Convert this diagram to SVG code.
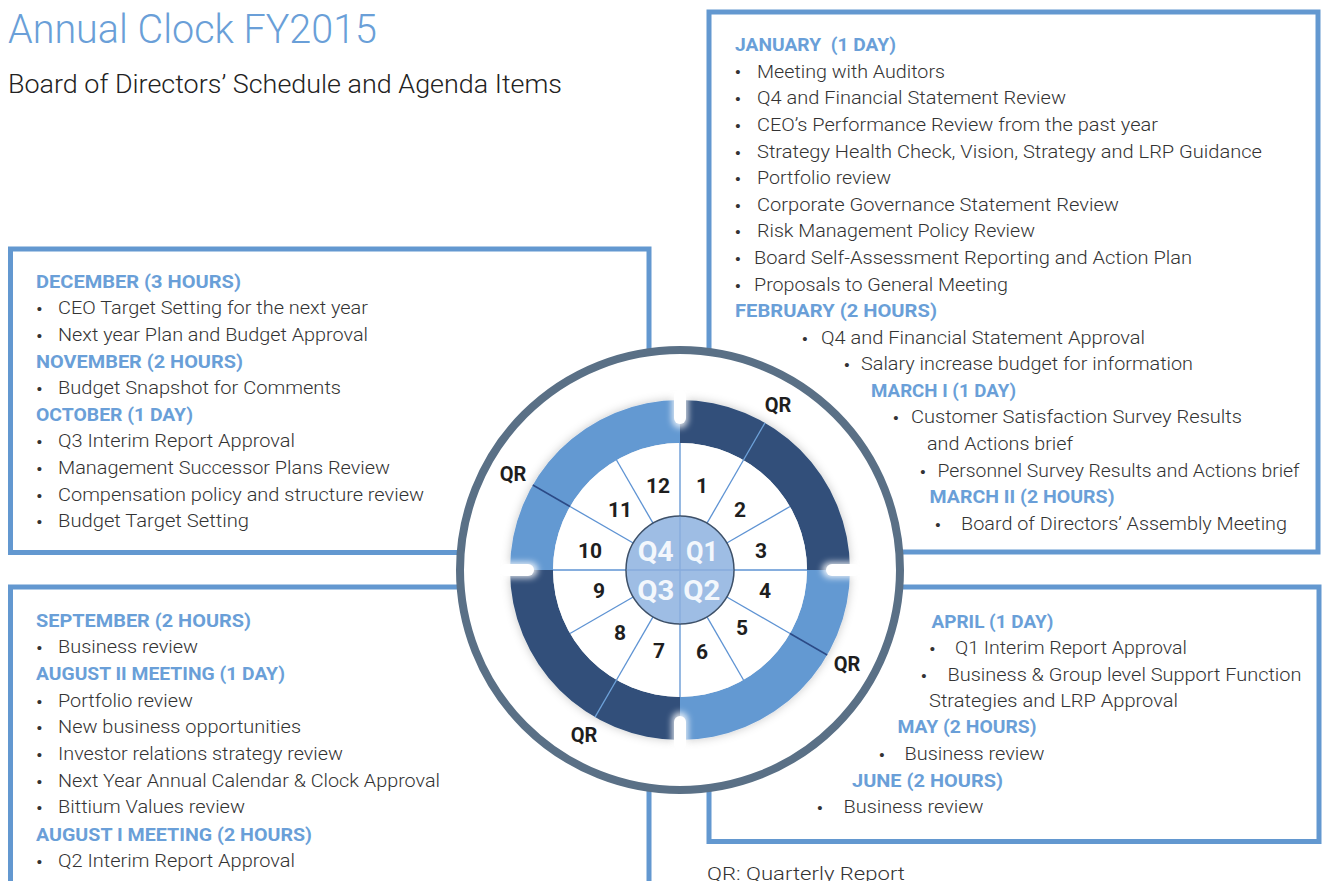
<svg xmlns="http://www.w3.org/2000/svg" width="1323" height="881" viewBox="0 0 1323 881">
<defs>
<style>
.box{fill:none;stroke:#6398d0;stroke-width:5}
.h{font-family:Roboto,"Liberation Sans",sans-serif;font-weight:700;font-size:18px;fill:#6a9fd8}
.t{font-family:Roboto,"Liberation Sans",sans-serif;font-weight:300;font-size:18.5px;fill:#333}
.b{font-family:"Liberation Sans",sans-serif;font-size:15px;fill:#333;text-anchor:middle}
.num{font-family:Roboto,"Liberation Sans",sans-serif;font-weight:700;font-size:21px;fill:#1e1e1e;text-anchor:middle}
.q{font-family:Roboto,"Liberation Sans",sans-serif;font-weight:700;font-size:27px;fill:#f3f7fc;text-anchor:middle}
.qr{font-family:Roboto,"Liberation Sans",sans-serif;font-weight:700;font-size:20px;fill:#1e1e1e;text-anchor:middle}
.spoke{stroke:#5e93d3;stroke-width:1.3}
.dark{fill:#31507a}
.light{fill:#6499d2}
.notch{fill:#fff}
</style>
<filter id="sh" x="-20%" y="-20%" width="140%" height="140%">
<feDropShadow dx="0" dy="0" stdDeviation="5" flood-color="#000" flood-opacity="0.22"/>
</filter>
<filter id="glow" x="-50%" y="-50%" width="200%" height="200%">
<feGaussianBlur stdDeviation="3"/>
</filter>
</defs>
<rect width="1323" height="881" fill="#fff"/>

<g id="title">
<text x="8" y="43" font-family="Roboto,'Liberation Sans',sans-serif" font-weight="300" font-size="41" fill="#6a9fd8" textLength="369" lengthAdjust="spacingAndGlyphs">Annual Clock FY2015</text>
<text x="8" y="93" font-family="Roboto,'Liberation Sans',sans-serif" font-weight="300" font-size="25" fill="#222" textLength="554" lengthAdjust="spacingAndGlyphs">Board of Directors’ Schedule and Agenda Items</text>
</g>

<g id="box-q1">
<rect class="box" x="709" y="12" width="609" height="540"/>
<text class="h" x="735" y="50.5" textLength="161" lengthAdjust="spacingAndGlyphs" xml:space="preserve">JANUARY  (1 DAY)</text>
<text class="b" x="738" y="77">•</text><text class="t" x="757" y="77.5" textLength="188" lengthAdjust="spacingAndGlyphs">Meeting with Auditors</text>
<text class="b" x="738" y="104">•</text><text class="t" x="757" y="104.3" textLength="309" lengthAdjust="spacingAndGlyphs">Q4 and Financial Statement Review</text>
<text class="b" x="738" y="131">•</text><text class="t" x="757" y="131" textLength="401" lengthAdjust="spacingAndGlyphs">CEO’s Performance Review from the past year</text>
<text class="b" x="738" y="157.5">•</text><text class="t" x="757" y="157.5" textLength="505" lengthAdjust="spacingAndGlyphs">Strategy Health Check, Vision, Strategy and LRP Guidance</text>
<text class="b" x="738" y="184">•</text><text class="t" x="757" y="184" textLength="134" lengthAdjust="spacingAndGlyphs">Portfolio review</text>
<text class="b" x="738" y="210.7">•</text><text class="t" x="757" y="210.7" textLength="362" lengthAdjust="spacingAndGlyphs">Corporate Governance Statement Review</text>
<text class="b" x="738" y="237.3">•</text><text class="t" x="757" y="237.3" textLength="278" lengthAdjust="spacingAndGlyphs">Risk Management Policy Review</text>
<text class="b" x="738" y="264">•</text><text class="t" x="754" y="264" textLength="438" lengthAdjust="spacingAndGlyphs">Board Self-Assessment Reporting and Action Plan</text>
<text class="b" x="738" y="290.5">•</text><text class="t" x="754" y="290.5" textLength="254" lengthAdjust="spacingAndGlyphs">Proposals to General Meeting</text>
<text class="h" x="735" y="317.3" textLength="202" lengthAdjust="spacingAndGlyphs">FEBRUARY (2 HOURS)</text>
<text class="b" x="805" y="343.5">•</text><text class="t" x="821" y="343.5" textLength="324" lengthAdjust="spacingAndGlyphs">Q4 and Financial Statement Approval</text>
<text class="b" x="847" y="370">•</text><text class="t" x="861" y="370" textLength="332" lengthAdjust="spacingAndGlyphs">Salary increase budget for information</text>
<text class="h" x="871" y="397" textLength="145" lengthAdjust="spacingAndGlyphs">MARCH I (1 DAY)</text>
<text class="b" x="896" y="423">•</text><text class="t" x="911" y="423" textLength="331" lengthAdjust="spacingAndGlyphs">Customer Satisfaction Survey Results</text>
<text class="t" x="927" y="450" textLength="146" lengthAdjust="spacingAndGlyphs">and Actions brief</text>
<text class="b" x="923" y="477">•</text><text class="t" x="937.5" y="477" textLength="362" lengthAdjust="spacingAndGlyphs">Personnel Survey Results and Actions brief</text>
<text class="h" x="929.5" y="503" textLength="185" lengthAdjust="spacingAndGlyphs">MARCH II (2 HOURS)</text>
<text class="b" x="938" y="530">•</text><text class="t" x="961" y="530" textLength="326" lengthAdjust="spacingAndGlyphs">Board of Directors’ Assembly Meeting</text>
</g>

<g id="box-q2">
<rect class="box" x="709" y="587" width="610" height="254.5"/>
<text class="h" x="931.5" y="627.7" textLength="122" lengthAdjust="spacingAndGlyphs">APRIL (1 DAY)</text>
<text class="b" x="932.5" y="654">•</text><text class="t" x="955" y="654" textLength="232" lengthAdjust="spacingAndGlyphs">Q1 Interim Report Approval</text>
<text class="b" x="924" y="680.7">•</text><text class="t" x="947.5" y="680.7" textLength="354" lengthAdjust="spacingAndGlyphs">Business &amp; Group level Support Function</text>
<text class="t" x="929" y="707.3" textLength="249" lengthAdjust="spacingAndGlyphs">Strategies and LRP Approval</text>
<text class="h" x="897.5" y="733.3" textLength="139" lengthAdjust="spacingAndGlyphs">MAY (2 HOURS)</text>
<text class="b" x="882" y="760">•</text><text class="t" x="904.5" y="760" textLength="140" lengthAdjust="spacingAndGlyphs">Business review</text>
<text class="h" x="852" y="787" textLength="151" lengthAdjust="spacingAndGlyphs">JUNE (2 HOURS)</text>
<text class="b" x="820" y="813">•</text><text class="t" x="843.5" y="813" textLength="140" lengthAdjust="spacingAndGlyphs">Business review</text>
</g>

<g id="box-q4">
<rect class="box" x="10.5" y="249" width="638.5" height="303.5"/>
<text class="h" x="36" y="288" textLength="205" lengthAdjust="spacingAndGlyphs">DECEMBER (3 HOURS)</text>
<text class="b" x="39.5" y="314">•</text><text class="t" x="58" y="314" textLength="310" lengthAdjust="spacingAndGlyphs">CEO Target Setting for the next year</text>
<text class="b" x="39.5" y="341">•</text><text class="t" x="58" y="341" textLength="310" lengthAdjust="spacingAndGlyphs">Next year Plan and Budget Approval</text>
<text class="h" x="36" y="368" textLength="207" lengthAdjust="spacingAndGlyphs">NOVEMBER (2 HOURS)</text>
<text class="b" x="39.5" y="394">•</text><text class="t" x="58" y="394" textLength="283" lengthAdjust="spacingAndGlyphs">Budget Snapshot for Comments</text>
<text class="h" x="36" y="421" textLength="157" lengthAdjust="spacingAndGlyphs">OCTOBER (1 DAY)</text>
<text class="b" x="39.5" y="447">•</text><text class="t" x="58" y="447" textLength="237" lengthAdjust="spacingAndGlyphs">Q3 Interim Report Approval</text>
<text class="b" x="39.5" y="474">•</text><text class="t" x="58" y="474" textLength="332" lengthAdjust="spacingAndGlyphs">Management Successor Plans Review</text>
<text class="b" x="39.5" y="501">•</text><text class="t" x="58" y="501" textLength="366" lengthAdjust="spacingAndGlyphs">Compensation policy and structure review</text>
<text class="b" x="39.5" y="527">•</text><text class="t" x="58" y="527" textLength="191" lengthAdjust="spacingAndGlyphs">Budget Target Setting</text>
</g>

<g id="box-q3">
<rect class="box" x="10.5" y="587" width="638.5" height="320"/>
<text class="h" x="36" y="627.3" textLength="215" lengthAdjust="spacingAndGlyphs">SEPTEMBER (2 HOURS)</text>
<text class="b" x="39.5" y="653.3">•</text><text class="t" x="58" y="653.3" textLength="140" lengthAdjust="spacingAndGlyphs">Business review</text>
<text class="h" x="36" y="680" textLength="249" lengthAdjust="spacingAndGlyphs">AUGUST II MEETING (1 DAY)</text>
<text class="b" x="39.5" y="706.7">•</text><text class="t" x="58" y="706.7" textLength="135" lengthAdjust="spacingAndGlyphs">Portfolio review</text>
<text class="b" x="39.5" y="733">•</text><text class="t" x="58" y="733" textLength="243" lengthAdjust="spacingAndGlyphs">New business opportunities</text>
<text class="b" x="39.5" y="760">•</text><text class="t" x="58" y="760" textLength="285" lengthAdjust="spacingAndGlyphs">Investor relations strategy review</text>
<text class="b" x="39.5" y="787">•</text><text class="t" x="58" y="787" textLength="382" lengthAdjust="spacingAndGlyphs">Next Year Annual Calendar &amp; Clock Approval</text>
<text class="b" x="39.5" y="813">•</text><text class="t" x="58" y="813" textLength="187" lengthAdjust="spacingAndGlyphs">Bittium Values review</text>
<text class="h" x="36" y="840.7" textLength="276" lengthAdjust="spacingAndGlyphs">AUGUST I MEETING (2 HOURS)</text>
<text class="b" x="39.5" y="866.7">•</text><text class="t" x="58" y="866.7" textLength="237" lengthAdjust="spacingAndGlyphs">Q2 Interim Report Approval</text>
</g>

<g id="legend">
<text class="t" x="707" y="880" textLength="198" lengthAdjust="spacingAndGlyphs">QR: Quarterly Report</text>
</g>

<g id="clock">
<circle cx="680" cy="570" r="220" fill="#fff" stroke="#5a7086" stroke-width="8"/>
<g id="ring" filter="url(#sh)">
<path class="dark" d="M680 400 A170 170 0 0 1 850 570 L807 570 A127 127 0 0 0 680 443 Z"/>
<path class="light" d="M850 570 A170 170 0 0 1 680 740 L680 697 A127 127 0 0 0 807 570 Z"/>
<path class="dark" d="M680 740 A170 170 0 0 1 510 570 L553 570 A127 127 0 0 0 680 697 Z"/>
<path class="light" d="M510 570 A170 170 0 0 1 680 400 L680 443 A127 127 0 0 0 553 570 Z"/>
<circle cx="680" cy="570" r="127" fill="#fff"/>
</g>
<g id="notches">
<g filter="url(#glow)" fill="#fff" opacity="0.8">
<rect x="672" y="386" width="16" height="42" rx="8"/>
<rect x="672" y="712" width="16" height="42" rx="8"/>
<rect x="496" y="562" width="42" height="16" rx="8"/>
<rect x="822" y="562" width="42" height="16" rx="8"/>
</g>
<rect class="notch" x="674" y="390" width="12" height="34" rx="6"/>
<rect class="notch" x="674" y="716" width="12" height="34" rx="6"/>
<rect class="notch" x="500" y="564" width="34" height="12" rx="6"/>
<rect class="notch" x="826" y="564" width="34" height="12" rx="6"/>
</g>
<g id="connectors">
<line class="spoke" x1="680" y1="443" x2="680" y2="697"/>
<line class="spoke" x1="553" y1="570" x2="807" y2="570"/>
<line class="spoke" x1="707" y1="523.2" x2="743.5" y2="460"/>
<line class="spoke" x1="726.8" y1="543" x2="790" y2="506.5"/>
<line class="spoke" x1="726.8" y1="597" x2="790" y2="633.5"/>
<line class="spoke" x1="707" y1="616.8" x2="743.5" y2="680"/>
<line class="spoke" x1="653" y1="616.8" x2="616.5" y2="680"/>
<line class="spoke" x1="633.2" y1="597" x2="570" y2="633.5"/>
<line class="spoke" x1="633.2" y1="543" x2="570" y2="506.5"/>
<line class="spoke" x1="653" y1="523.2" x2="616.5" y2="460"/>
<line x1="743.5" y1="460" x2="765" y2="422.8" stroke="#6ea2da" stroke-width="1.3"/>
<line x1="790" y1="633.5" x2="827.2" y2="655" stroke="#2b4a86" stroke-width="1.5"/>
<line x1="616.5" y1="680" x2="595" y2="717.2" stroke="#6ea2da" stroke-width="1.3"/>
<line x1="570" y1="506.5" x2="532.8" y2="485" stroke="#2b4a86" stroke-width="1.5"/>
</g>
<g id="center">
<circle cx="680" cy="570" r="54" fill="#9ebde4" stroke="#3d5068" stroke-width="1.5"/>
<line x1="680" y1="516.8" x2="680" y2="623.2" stroke="#86abdc" stroke-width="1.3"/>
<line x1="626.8" y1="570" x2="733.2" y2="570" stroke="#86abdc" stroke-width="1.3"/>
<text class="q" x="655.7" y="561" textLength="36" lengthAdjust="spacingAndGlyphs">Q4</text>
<text class="q" x="702" y="561" textLength="32" lengthAdjust="spacingAndGlyphs">Q1</text>
<text class="q" x="655.7" y="599.5" textLength="37" lengthAdjust="spacingAndGlyphs">Q3</text>
<text class="q" x="701.7" y="599.5" textLength="37" lengthAdjust="spacingAndGlyphs">Q2</text>
</g>
<g id="months">
<text class="num" x="702" y="492.5">1</text>
<text class="num" x="740" y="516.5">2</text>
<text class="num" x="761" y="557.5">3</text>
<text class="num" x="765" y="597.5">4</text>
<text class="num" x="742" y="634.5">5</text>
<text class="num" x="702" y="658.5">6</text>
<text class="num" x="659" y="657.5">7</text>
<text class="num" x="620" y="639.5">8</text>
<text class="num" x="599" y="597.5">9</text>
<text class="num" x="590" y="557.5">10</text>
<text class="num" x="620" y="516.5">11</text>
<text class="num" x="658" y="492.5">12</text>
</g>
<g id="qr-labels">
<text class="qr" x="778" y="411.5">QR</text>
<text class="qr" x="847" y="670.5">QR</text>
<text class="qr" x="584" y="741.5">QR</text>
<text class="qr" x="513" y="480.5">QR</text>
</g>
</g>
</svg>
